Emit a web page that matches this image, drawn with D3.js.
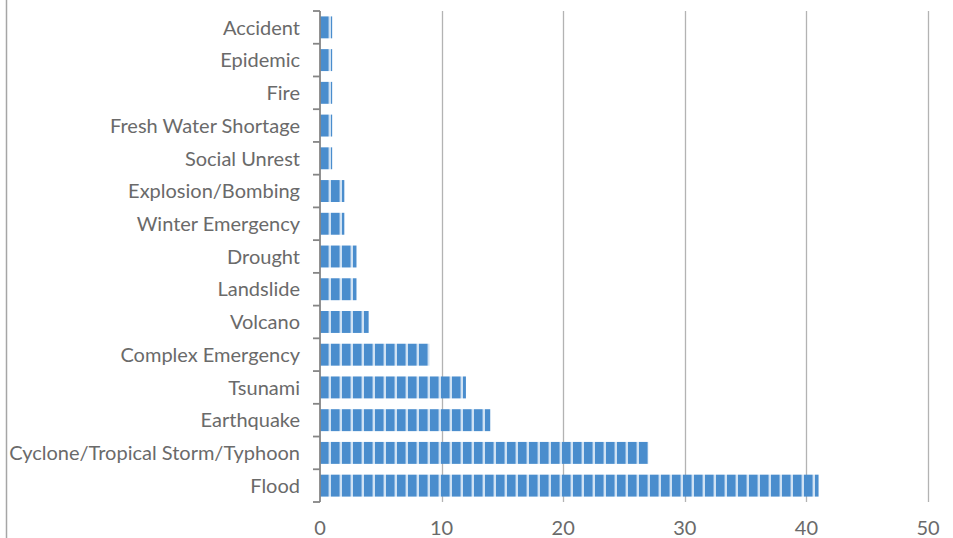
<!DOCTYPE html>
<html><head><meta charset="utf-8">
<script src="https://cdn.jsdelivr.net/npm/d3@7"></script>
<style>html,body{margin:0;padding:0;background:#fff;}svg{display:block;}</style>
</head><body><svg id="c" width="953" height="538"></svg>
<script>
const categories = ["Accident","Epidemic","Fire","Fresh Water Shortage","Social Unrest","Explosion/Bombing","Winter Emergency","Drought","Landslide","Volcano","Complex Emergency","Tsunami","Earthquake","Cyclone/Tropical Storm/Typhoon","Flood"];
const values = [1,1,1,1,1,2,2,3,3,4,9,12,14,27,41];
const xTicks = [0,10,20,30,40,50];

const svg = d3.select("#c");
const x = d3.scaleLinear().domain([0,50]).range([320,928]);
const y = d3.scaleBand().domain(categories).range([11,502]).paddingInner(0.33).paddingOuter(0.165);
const font = "Lato, 'Open Sans', sans-serif";
const textColor = "#6a6a6a";

// frame left edge
svg.append("line").attr("x1",6.5).attr("x2",6.5).attr("y1",0).attr("y2",538).attr("stroke","#a6a6a6").attr("stroke-width",1.5);

// pattern
const defs = svg.append("defs");
const pat = defs.append("pattern").attr("id","stripes").attr("patternUnits","userSpaceOnUse")
  .attr("x",320).attr("y",0).attr("width",11).attr("height",10);
pat.append("rect").attr("width",11).attr("height",10).attr("fill","#4a8dcd");
pat.append("rect").attr("x",8.5).attr("width",3).attr("height",10).attr("fill","#bcd6ef");
pat.append("rect").attr("x",9.5).attr("width",1).attr("height",10).attr("fill","#e4eef8");

// gridlines
svg.append("g").selectAll("line").data(xTicks.slice(1)).join("line")
  .attr("x1",d=>Math.round(x(d))+0.5).attr("x2",d=>Math.round(x(d))+0.5)
  .attr("y1",11).attr("y2",502).attr("stroke","#b3b3b3").attr("stroke-width",1.3);

// bars
svg.append("g").selectAll("rect").data(values).join("rect")
  .attr("x",x(0)).attr("y",(d,i)=>y(categories[i]))
  .attr("width",d=>x(d)-x(0)).attr("height",y.bandwidth())
  .attr("fill","url(#stripes)");

// y axis
const ya = svg.append("g");
ya.append("line").attr("x1",320).attr("x2",320).attr("y1",11).attr("y2",502).attr("stroke","#858585").attr("stroke-width",1.8);
const bounds = d3.range(categories.length+1).map(i=>11+i*(491/categories.length));
ya.selectAll("line.t").data(bounds).join("line").attr("class","t")
  .attr("x1",313).attr("x2",320).attr("y1",d=>d).attr("y2",d=>d).attr("stroke","#858585").attr("stroke-width",1.8);
ya.selectAll("text").data(categories).join("text")
  .attr("x",300).attr("y",d=>y(d)+y.bandwidth()/2).attr("dy","0.36em")
  .attr("text-anchor","end").attr("font-family",font).attr("font-size",20).attr("fill",textColor).text(d=>d);

// x tick labels
svg.append("g").selectAll("text").data(xTicks).join("text")
  .attr("x",d=>x(d)).attr("y",535).attr("text-anchor","middle")
  .attr("font-family",font).attr("font-size",20).attr("fill",textColor).text(d=>d);
</script></body></html>
